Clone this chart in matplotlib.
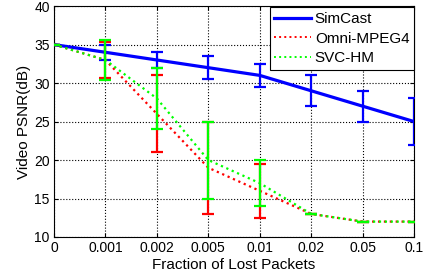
import matplotlib
matplotlib.use("Agg")
import matplotlib.pyplot as plt
import numpy as np
from matplotlib.lines import Line2D

plt.rcParams['font.family'] = ['Liberation Sans', 'DejaVu Sans']

x_labels = ['0', '0.001', '0.002', '0.005', '0.01', '0.02', '0.05', '0.1']
simcast = [35, 34, 33, 32, 31, 29, 27, 25]
simcast_err = [0, 1, 1, 1.5, 1.5, 2, 2, 3]
omni = [35, 33, 26, 19, 16, 13, 12, 12]
omni_err = [0, 2.3, 5, 6, 3.5, 0, 0, 0]
svc = [35, 33, 28, 20, 17, 13, 12, 12]
svc_err = [0, 2.6, 4, 5, 3, 0, 0, 0]
series_labels = ['SimCast', 'Omni-MPEG4', 'SVC-HM']

xs = np.arange(len(x_labels))

fig = plt.figure(figsize=(4.4, 2.78), dpi=100)
ax = fig.add_axes([0.1227, 0.1475, 0.8183, 0.8305])

ax.errorbar(xs, simcast, yerr=simcast_err, color='#0000ff', lw=2.3, capsize=4, elinewidth=1.6, capthick=1.6, zorder=3)
ax.errorbar(xs, omni, yerr=omni_err, color='#ff0000', lw=1.6, ls=':', capsize=4, elinewidth=1.6, capthick=1.6, zorder=4)
ax.errorbar(xs, svc, yerr=svc_err, color='#00ff00', lw=1.6, ls=':', capsize=4, elinewidth=1.6, capthick=1.6, zorder=5)

ax.set_xlim(0, 7)
ax.set_ylim(10, 40)
ax.set_xticks(xs)
ax.set_xticklabels(x_labels)
ax.set_yticks(np.arange(10, 41, 5))
ax.tick_params(direction='in', labelsize=10, length=3, top=True, right=True, pad=3)
ax.grid(True, ls=':', color='black', lw=0.8)
ax.set_xlabel('Fraction of Lost Packets', fontsize=11, labelpad=2)
ax.set_ylabel('Video PSNR(dB)', fontsize=11, labelpad=2)

hs = [Line2D([], [], color='#0000ff', lw=2.3),
      Line2D([], [], color='#ff0000', lw=1.4, ls=':'),
      Line2D([], [], color='#00ff00', lw=1.4, ls=':')]
leg = ax.legend(hs, series_labels, loc='upper right', fontsize=11, fancybox=False, framealpha=1,
                edgecolor='black', borderaxespad=0.0, handlelength=2.4, borderpad=0.3,
                labelspacing=0.38, handletextpad=0.25, bbox_to_anchor=(1.0, 0.995))
leg.get_frame().set_linewidth(0.8)

fig.savefig('out.png', dpi=100)
